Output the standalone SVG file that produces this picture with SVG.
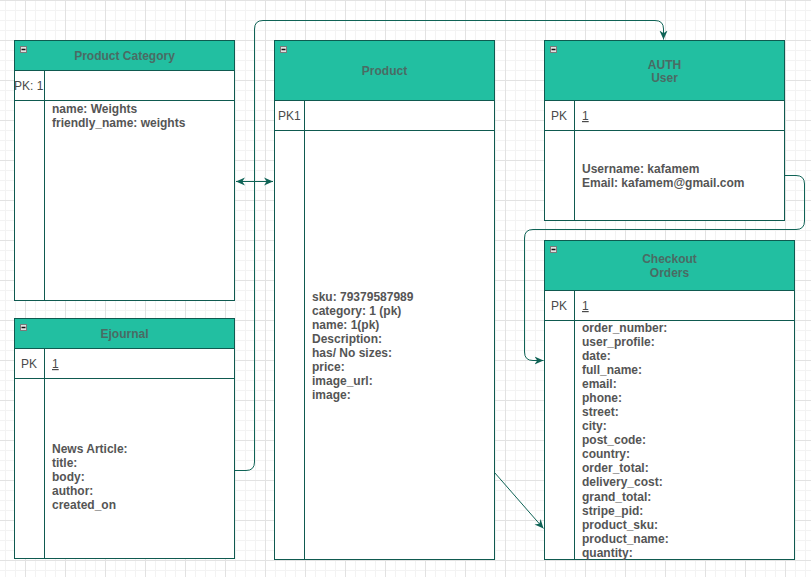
<svg xmlns="http://www.w3.org/2000/svg" width="811" height="577" viewBox="0 0 811 577">
<style>
.tb{fill:#ffffff;stroke:#0f5a50;stroke-width:1}
.hd{fill:#22bfa1;stroke:#0f5a50;stroke-width:1}
.ln{stroke:#0f5a50;stroke-width:1;fill:none}
.ht{font-family:"Liberation Sans",Arial,sans-serif;font-size:12px;font-weight:bold;fill:#4a6b64;text-anchor:middle}
.pk{font-family:"Liberation Sans",Arial,sans-serif;font-size:12px;fill:#4a4a4a}
.bd{font-family:"Liberation Sans",Arial,sans-serif;font-size:12px;font-weight:bold;fill:#555555}
.ic{fill:#e2e2e2;stroke:#7a7a7a;stroke-width:1}
.im{stroke:#111;stroke-width:1.5}
.cn{stroke:#0f6356;stroke-width:1;fill:none}
</style>
<defs>
<pattern id="gMinor" width="10" height="10" patternUnits="userSpaceOnUse" x="5" y="0">
<path d="M0 0.5H10M0.5 0V10" stroke="#f3f3f3" stroke-width="1" fill="none"/>
</pattern>
<pattern id="gMajor" width="40" height="40" patternUnits="userSpaceOnUse" x="25" y="0">
<path d="M0 0.5H40M0.5 0V40" stroke="#e2e2e2" stroke-width="1" fill="none"/>
</pattern>
<marker id="arr" viewBox="0 0 10 10" refX="10" refY="5" markerWidth="9" markerHeight="9" markerUnits="userSpaceOnUse" orient="auto-start-reverse">
<path d="M0,0.5 L10,5 L0,9.5 L3,5 Z" fill="#0f6356"/>
</marker>
</defs>
<rect width="811" height="577" fill="#ffffff"/>
<rect width="811" height="577" fill="url(#gMinor)"/>
<rect width="811" height="577" fill="url(#gMajor)"/>

<g id="connectors">
<path class="cn" d="M236,181.5 L273,181.5" marker-start="url(#arr)" marker-end="url(#arr)"/>
<path class="cn" d="M234.5,470.5 L246,470.5 Q254.5,470.5 254.5,462 L254.5,29 Q254.5,20.5 263,20.5 L655,20.5 Q663.5,20.5 663.5,29 L663.5,39.5" marker-end="url(#arr)"/>
<path class="cn" d="M784.5,175.5 L796,175.5 Q804.5,175.5 804.5,184 L804.5,221 Q804.5,229.5 796,229.5 L533,229.5 Q524.5,229.5 524.5,238 L524.5,352 Q524.5,360.5 533,360.5 L543.5,360.5" marker-end="url(#arr)"/>
<path class="cn" d="M494.5,472.5 L543.5,528.5" marker-end="url(#arr)"/>
</g>

<g id="product-category">
<rect class="tb" x="14.5" y="40.5" width="220" height="260"/>
<rect class="hd" x="14.5" y="40.5" width="220" height="30"/>
<path class="ln" d="M14.5 100.5H234.5M44.5 70.5V300.5"/>
<rect class="ic" x="20.5" y="46.5" width="6" height="6"/>
<path class="im" d="M21.5 49.5H25.5"/>
<text class="ht" x="124.5" y="59.5">Product Category</text>
<text class="pk" x="14" y="89.5">PK: 1</text>
<text class="bd" x="52" y="112.5">name: Weights</text>
<text class="bd" x="52" y="126.5">friendly_name: weights</text>
</g>

<g id="ejournal">
<rect class="tb" x="14.5" y="318.5" width="220" height="240"/>
<rect class="hd" x="14.5" y="318.5" width="220" height="30"/>
<path class="ln" d="M14.5 378.5H234.5M44.5 348.5V558.5"/>
<rect class="ic" x="20.5" y="324.5" width="6" height="6"/>
<path class="im" d="M21.5 327.5H25.5"/>
<text class="ht" x="124.5" y="338">Ejournal</text>
<text class="pk" x="21" y="368">PK</text>
<text class="pk" x="52" y="368" text-decoration="underline">1</text>
<text class="bd" x="52" y="452.5">News Article:</text>
<text class="bd" x="52" y="466.5">title:</text>
<text class="bd" x="52" y="480.5">body:</text>
<text class="bd" x="52" y="494.5">author:</text>
<text class="bd" x="52" y="508.5">created_on</text>
</g>

<g id="product">
<rect class="tb" x="274.5" y="40.5" width="220" height="519"/>
<rect class="hd" x="274.5" y="40.5" width="220" height="60"/>
<path class="ln" d="M274.5 130.5H494.5M304.5 100.5V559.5"/>
<rect class="ic" x="280.5" y="46.5" width="6" height="6"/>
<path class="im" d="M281.5 49.5H285.5"/>
<text class="ht" x="384.5" y="75">Product</text>
<text class="pk" x="278" y="120">PK1</text>
<text class="bd" x="312" y="301">sku: 79379587989</text>
<text class="bd" x="312" y="315">category: 1 (pk)</text>
<text class="bd" x="312" y="329">name: 1(pk)</text>
<text class="bd" x="312" y="343">Description:</text>
<text class="bd" x="312" y="357">has/ No sizes:</text>
<text class="bd" x="312" y="371">price:</text>
<text class="bd" x="312" y="385">image_url:</text>
<text class="bd" x="312" y="399">image:</text>
</g>

<g id="auth-user">
<rect class="tb" x="544.5" y="40.5" width="240" height="180"/>
<rect class="hd" x="544.5" y="40.5" width="240" height="60"/>
<path class="ln" d="M544.5 130.5H784.5M574.5 100.5V220.5"/>
<rect class="ic" x="550.5" y="46.5" width="6" height="6"/>
<path class="im" d="M551.5 49.5H555.5"/>
<text class="ht" x="664.5" y="68.5">AUTH</text>
<text class="ht" x="664.5" y="82">User</text>
<text class="pk" x="551" y="120">PK</text>
<text class="pk" x="582" y="120" text-decoration="underline">1</text>
<text class="bd" x="582" y="173">Username: kafamem</text>
<text class="bd" x="582" y="187">Email: kafamem@gmail.com</text>
</g>

<g id="checkout-orders">
<rect class="tb" x="544.5" y="240.5" width="250" height="319"/>
<rect class="hd" x="544.5" y="240.5" width="250" height="50"/>
<path class="ln" d="M544.5 320.5H794.5M574.5 290.5V559.5"/>
<rect class="ic" x="550.5" y="246.5" width="6" height="6"/>
<path class="im" d="M551.5 249.5H555.5"/>
<text class="ht" x="669.5" y="263">Checkout</text>
<text class="ht" x="669.5" y="277">Orders</text>
<text class="pk" x="551" y="310">PK</text>
<text class="pk" x="582" y="310" text-decoration="underline">1</text>
<text class="bd" x="582" y="331.5">order_number:</text>
<text class="bd" x="582" y="345.6">user_profile:</text>
<text class="bd" x="582" y="359.7">date:</text>
<text class="bd" x="582" y="373.7">full_name:</text>
<text class="bd" x="582" y="387.8">email:</text>
<text class="bd" x="582" y="401.9">phone:</text>
<text class="bd" x="582" y="416">street:</text>
<text class="bd" x="582" y="430.1">city:</text>
<text class="bd" x="582" y="444.1">post_code:</text>
<text class="bd" x="582" y="458.2">country:</text>
<text class="bd" x="582" y="472.3">order_total:</text>
<text class="bd" x="582" y="486.4">delivery_cost:</text>
<text class="bd" x="582" y="500.5">grand_total:</text>
<text class="bd" x="582" y="514.5">stripe_pid:</text>
<text class="bd" x="582" y="528.6">product_sku:</text>
<text class="bd" x="582" y="542.7">product_name:</text>
<text class="bd" x="582" y="556.8">quantity:</text>
</g>
</svg>
